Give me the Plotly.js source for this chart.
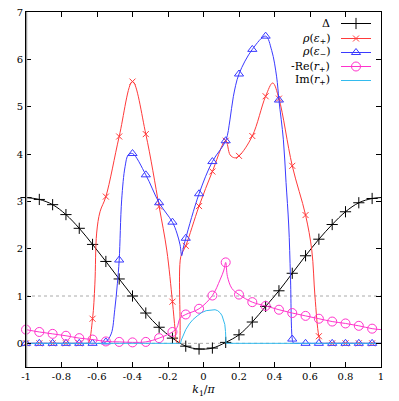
<!DOCTYPE html>
<html><head><meta charset="utf-8">
<script src="https://cdn.plot.ly/plotly-3.0.1.min.js"></script>
<style>html,body{margin:0;padding:0;background:#fff}#plot{width:399px;height:401px}</style>
</head><body><div id="plot"></div>
<script>
// marker grid (k1/pi positions where symbols are drawn)
const kMarks = [-1,-0.925,-0.85,-0.775,-0.7,-0.625,-0.55,-0.475,-0.4,-0.325,-0.25,-0.175,-0.1,-0.025,0.05,0.125,0.2,0.275,0.35,0.425,0.5,0.575,0.65,0.725,0.8,0.875,0.95];

// Delta
const deltaX = [-1,-0.925,-0.85,-0.775,-0.7,-0.625,-0.55,-0.475,-0.4,-0.325,-0.25,-0.175,-0.1,-0.025,0.05,0.125,0.2,0.275,0.35,0.425,0.5,0.575,0.65,0.725,0.8,0.875,0.95,1];
const deltaY = [3.08,3.04,2.93,2.72,2.43,2.09,1.73,1.36,1.00,0.64,0.34,0.11,-0.06,-0.12,-0.10,0.02,0.18,0.45,0.78,1.11,1.48,1.85,2.20,2.51,2.78,2.97,3.06,3.08];

// rho(eps+)
const rhoPX = [-1,-0.925,-0.85,-0.775,-0.7,-0.66,-0.648,-0.625,-0.612,-0.602,-0.583,-0.55,-0.475,-0.4,-0.325,-0.25,-0.207,-0.175,-0.16,-0.152,-0.145,-0.138,-0.128,-0.1,-0.025,0.05,0.125,0.15,0.175,0.2,0.275,0.35,0.39,0.425,0.5,0.575,0.61,0.628,0.65,0.663,0.672,0.69,0.725,0.8,0.875,0.95,1];
const rhoPY = [0,0,0,0,0,0,0.01,0.52,1.25,2.33,2.78,3.10,4.37,5.53,4.42,2.89,1.97,0.88,0.29,0.03,0,0,1.83,2.06,2.90,3.63,4.28,3.98,3.92,3.96,4.38,5.22,5.50,5.17,3.75,2.71,1.97,0.99,0.15,0.01,0,0,0,0,0,0,0];

// rho(eps-)
const rhoMX = [-1,-0.925,-0.85,-0.775,-0.7,-0.625,-0.57,-0.55,-0.52,-0.5,-0.485,-0.475,-0.461,-0.442,-0.424,-0.4,-0.325,-0.25,-0.175,-0.15,-0.132,-0.123,-0.114,-0.1,-0.025,0.05,0.125,0.149,0.168,0.2,0.275,0.35,0.384,0.412,0.425,0.45,0.465,0.48,0.49,0.5,0.506,0.515,0.54,0.575,0.65,0.725,0.8,0.875,0.95,1];
const rhoMY = [0,0,0,0,0,0,0,0.03,0.2,0.71,1.27,1.76,3.03,3.73,3.98,4.01,3.56,2.97,2.56,2.33,2.08,1.85,2.01,2.22,3.16,3.84,4.28,4.72,5.21,5.69,6.21,6.49,6.19,5.63,5.14,4.3,3.4,2.5,1.4,0.09,0.01,0,0,0,0,0,0,0,0,0];

// -Re(r+)
const negReX = [-1,-0.925,-0.85,-0.775,-0.7,-0.625,-0.55,-0.475,-0.4,-0.325,-0.25,-0.175,-0.15,-0.132,-0.1,-0.025,0.05,0.093,0.115,0.125,0.135,0.16,0.2,0.275,0.35,0.425,0.5,0.575,0.65,0.725,0.8,0.875,0.95,1];
const negReY = [0.29,0.24,0.20,0.16,0.11,0.08,0.04,0.03,0.02,0.03,0.11,0.24,0.33,0.53,0.61,0.73,1.01,1.34,1.55,1.71,1.41,1.16,1.03,0.87,0.79,0.71,0.64,0.58,0.52,0.46,0.42,0.37,0.31,0.29];

// Im(r+)
const imX = [-1,-0.129,-0.125,-0.12,-0.11,-0.1,-0.08,-0.06,-0.035,-0.01,0.015,0.045,0.065,0.08,0.095,0.105,0.115,0.12,0.124,0.127,1];
const imY = [0,0,0.07,0.12,0.2,0.29,0.41,0.5,0.58,0.65,0.69,0.71,0.71,0.69,0.64,0.58,0.48,0.4,0.25,0,0];

// ticks
const xTickVals = [-1,-0.8,-0.6,-0.4,-0.2,0,0.2,0.4,0.6,0.8,1];
const xTickText = ['-1','-0.8','-0.6','-0.4','-0.2','0','0.2','0.4','0.6','0.8','1'];
const yTickVals = [0,1,2,3,4,5,6,7];
const yTickText = ['0','1','2','3','4','5','6','7'];

const legendNames = ['Δ','<i>ρ</i>(<i>ε</i><sub>+</sub>)','<i>ρ</i>(<i>ε</i><sub>−</sub>)','-Re(<i>r</i><sub>+</sub>)','Im(<i>r</i><sub>+</sub>)'];

const FONT = 'DejaVu Serif';
const styles = [
  {x: deltaX, y: deltaY, color:'#000000', symbol:'cross-thin-open', size:8, shape:'spline', marks:true},
  {x: rhoPX, y: rhoPY, color:'#ff3a3a', symbol:'x-thin-open', size:6, shape:'spline', marks:true},
  {x: rhoMX, y: rhoMY, color:'#3a3aff', symbol:'triangle-up-open', size:8, shape:'spline', marks:true},
  {x: negReX, y: negReY, color:'#ff33cc', symbol:'circle-open', size:9, shape:'spline', marks:true},
  {x: imX, y: imY, color:'#33bbee', symbol:null, size:0, shape:'linear', marks:false}
];

function isMark(v){ return kMarks.some(m => Math.abs(m - v) < 1e-9); }

const traces = [];
styles.forEach(s => {
  traces.push({x: s.x, y: s.y, type:'scatter', mode:'lines', line:{color:s.color, width:1, shape:s.shape, smoothing:1}, hoverinfo:'skip', showlegend:false});
  if (s.marks) {
    const mx = [], my = [];
    s.x.forEach((v,i) => { if (isMark(v)) { mx.push(v); my.push(s.y[i]); } });
    traces.push({x: mx, y: my, type:'scatter', mode:'markers', marker:{symbol:s.symbol, size:s.size, color:s.color, line:{color:s.color, width:1}}, showlegend:false, cliponaxis:false});
  }
});

// custom gnuplot-like legend (sample on the right, text right-aligned)
const L = 26, R = 381, T = 12, B = 367;
const px2x = p => (p - L) / (R - L);
const py2y = p => (B - p) / (B - T);
const rowsPy = [23.5, 38.5, 52.5, 66.5, 80.5];
const annotations = [];
styles.forEach((s, i) => {
  const yy = py2y(rowsPy[i]);
  traces.push({x:[px2x(341), px2x(371)], y:[yy, yy], xaxis:'x2', yaxis:'y2', type:'scatter', mode:'lines', line:{color:s.color, width:1}, hoverinfo:'skip', showlegend:false});
  if (s.marks) traces.push({x:[px2x(356)], y:[yy], xaxis:'x2', yaxis:'y2', type:'scatter', mode:'markers', marker:{symbol:s.symbol, size:s.size, color:s.color, line:{color:s.color, width:1}}, hoverinfo:'skip', showlegend:false});
  annotations.push({xref:'paper', yref:'paper', x: px2x(332), y: yy, xanchor:'right', yanchor:'middle', text: legendNames[i], showarrow:false, font:{family:FONT, size:11, color:'#000'}});
});

const axisCommon = {ticks:'inside', ticklen:5, tickwidth:1, tickcolor:'#000', mirror:'allticks', showline:true, linecolor:'#000', linewidth:1, showgrid:false, zeroline:false, tickfont:{family:FONT, size:10, color:'#000'}};

const layout = {
  width:399, height:401,
  margin:{l:L, r:399-R, t:T, b:401-B},
  paper_bgcolor:'#fff', plot_bgcolor:'#fff',
  showlegend:false,
  font:{family:FONT, size:10, color:'#000'},
  xaxis: Object.assign({}, axisCommon, {range:[-1,1], tickmode:'array', tickvals:xTickVals, ticktext:xTickText, title:{text:'<i>k</i><sub>1</sub>/<i>π</i>', font:{family:FONT, size:11, color:'#000'}, standoff:4}}),
  yaxis: Object.assign({}, axisCommon, {range:[-0.5,7], tickmode:'array', tickvals:yTickVals, ticktext:yTickText}),
  xaxis2: {overlaying:'x', range:[0,1], visible:false, fixedrange:true},
  yaxis2: {overlaying:'y', range:[0,1], visible:false, fixedrange:true},
  shapes: [
    {type:'line', xref:'x', yref:'y', x0:-1, x1:1, y0:1, y1:1, line:{color:'#aaaaaa', width:1, dash:'dot'}, layer:'below'},
    {type:'line', xref:'x', yref:'y', x0:-1, x1:1, y0:0, y1:0, line:{color:'#aaaaaa', width:1, dash:'dot'}, layer:'below'},
    {type:'line', xref:'x', yref:'paper', x0:-1, x1:-1, y0:0, y1:1, line:{color:'#999999', width:2.5}, layer:'above'}
  ],
  annotations: annotations
};

Plotly.newPlot('plot', traces, layout, {displayModeBar:false, staticPlot:true});
</script></body></html>
